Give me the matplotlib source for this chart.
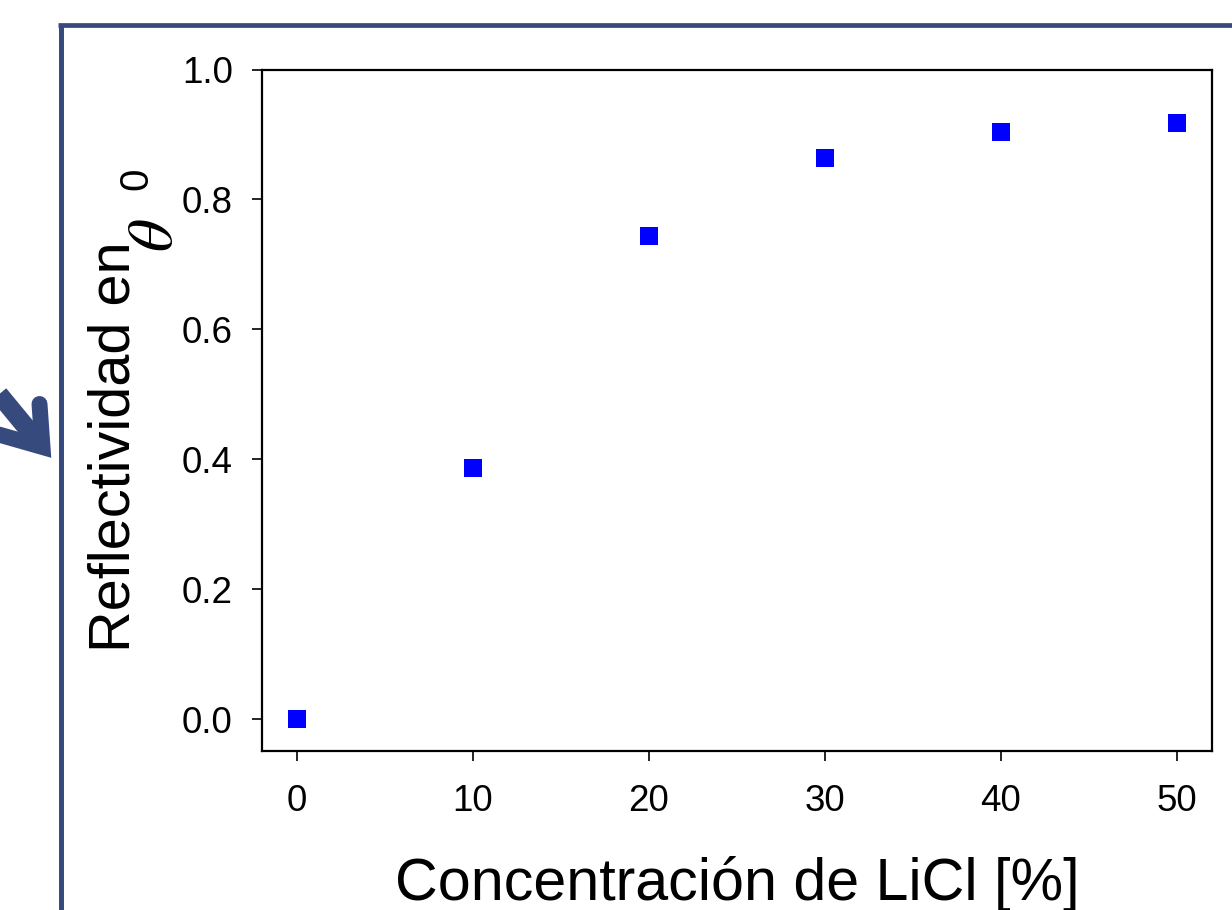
import matplotlib
matplotlib.use('Agg')
import matplotlib.pyplot as plt
from matplotlib.lines import Line2D
from matplotlib.transforms import Affine2D

# ---- data ----
conc = [0, 10, 20, 30, 40, 50]
refl = [0.0, 0.386, 0.743, 0.864, 0.904, 0.917]
xticks = [0, 10, 20, 30, 40, 50]
xticklabels = ['0', '10', '20', '30', '40', '50']
yticks = [0.0, 0.2, 0.4, 0.6, 0.8, 1.0]
yticklabels = ['0.0', '0.2', '0.4', '0.6', '0.8', '1.0']
xlabel = 'Concentración de LiCl [%]'
ylabel = 'Reflectividad en'
theta_sym = r'$\theta$'
sub_zero = '0'

W, H = 1232, 910
plt.rcParams['font.family'] = ['Liberation Sans', 'DejaVu Sans']
plt.rcParams['mathtext.fontset'] = 'stix'

fig = plt.figure(figsize=(W / 100, H / 100), dpi=100)
fig.patch.set_facecolor('white')
px = Affine2D().scale(1 / W, -1 / H).translate(0, 1) + fig.transFigure

frame_c = '#374a7e'
# slide frame
fig.add_artist(Line2D([60.5, 60.5], [24, 920], transform=px, color=frame_c,
                      lw=3.6, solid_capstyle='butt'))
fig.add_artist(Line2D([58.2, 1240], [25, 25], transform=px, color=frame_c,
                      lw=3.4, solid_capstyle='butt'))

# arrow on the left
Vx, Vy = 42.5, 447
fig.add_artist(Line2D([-40, Vx], [347, Vy], transform=px, color=frame_c,
                      lw=13.5, solid_capstyle='butt'))
fig.add_artist(Line2D([-10, Vx, 39.5], [432, Vy, 404], transform=px, color=frame_c,
                      lw=11.5, solid_joinstyle='miter', solid_capstyle='round'))

# axes
left, right, top, bottom = 262, 1211.7, 69.5, 751
ax = fig.add_axes([left / W, 1 - bottom / H, (right - left) / W, (bottom - top) / H])
ax.plot(conc, refl, linestyle='none', marker='s', ms=13.5, color='#0000ff',
        mec='#0000ff', mew=0, clip_on=False, zorder=3)

ax.set_xlim(-2, 52)
ax.set_ylim(-0.049, 1.0)
ax.set_xticks(xticks)
ax.set_xticklabels(xticklabels)
ax.set_yticks(yticks)
ax.set_yticklabels(yticklabels)
ax.tick_params(direction='out', length=7, width=1.2, labelsize=26.5, pad=14,
               top=False, right=False, colors='black')
ax.tick_params(axis='x', pad=17)
for s in ax.spines.values():
    s.set_linewidth(1.6)
    s.set_color('black')

ax.set_xlabel(xlabel, fontsize=42.6)
ax.xaxis.label.set_va('baseline')
ax.xaxis.set_label_coords(0.5, (bottom - 900) / (bottom - top))

ax.set_ylabel(ylabel, fontsize=41.5, rotation=90, rotation_mode='anchor',
              ha='left', va='baseline')
ax.yaxis.set_label_coords((130 - left) / (right - left), (bottom - 652) / (bottom - top))

fig.text(172, 252, theta_sym, transform=px, fontsize=46, rotation=90,
         rotation_mode='anchor', ha='left', va='baseline')
fig.text(147, 190, sub_zero, transform=px, fontsize=29, rotation=90,
         rotation_mode='anchor', ha='left', va='baseline')

fig.savefig('out.png', dpi=100, facecolor='white')
